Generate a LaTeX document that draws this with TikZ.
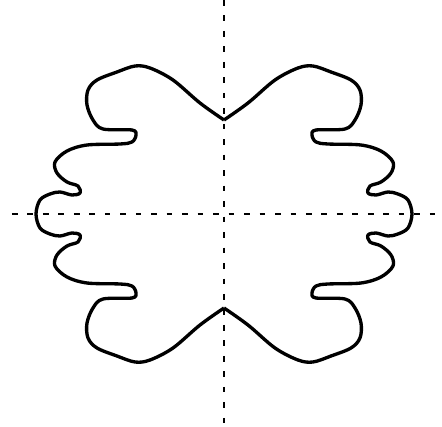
\documentclass[tikz,border=0pt]{standalone}
\usepackage{tikz}
\usetikzlibrary{positioning,calc}

\tikzset{
  outline/.style={line width=0.95pt, line join=round, black},
  axisline/.style={line width=0.85pt, black, dash pattern=on 1.6pt off 2.8pt},
}

% left half of the blot, top cusp down to bottom cusp
\def\blothalf{(0,94) (-24,111) (-51,134) (-74,146) (-89,148) (-107,142) (-127,134)
  (-136,124) (-137,109) (-131,94) (-121,85) (-92,84) (-88,79) (-92,72) (-104,70)
  (-137,69) (-157,63) (-169,52) (-167,41) (-157,32) (-146,28) (-144,21) (-152,19)
  (-164,22) (-174,20) (-184,14) (-188,0)
  (-184,-14) (-174,-20) (-164,-22) (-152,-19) (-144,-21) (-146,-28) (-157,-32)
  (-167,-41) (-169,-52) (-157,-63) (-137,-69) (-104,-70) (-92,-72) (-88,-79)
  (-92,-84) (-121,-85) (-131,-94) (-137,-109) (-136,-124) (-127,-134) (-107,-142)
  (-89,-148) (-74,-146) (-51,-134) (-24,-111) (0,-94)}

\begin{document}
\begin{tikzpicture}[x=0.01cm, y=0.01cm]
\useasboundingbox (-224,-213) rectangle (218,214);

% Axes
\coordinate (ytop) at (0,214);
\coordinate (ybot) at (0,-213);
\coordinate (xleft) at (-212,0);
\coordinate (xright) at (213,0);
\draw[axisline] (ytop) -- (ybot);
\draw[axisline] (xleft) -- (xright);

% Blot outline
\draw[outline] plot[smooth, tension=0.55] coordinates {\blothalf};
\begin{scope}[xscale=-1]
\draw[outline] plot[smooth, tension=0.55] coordinates {\blothalf};
\end{scope}
\end{tikzpicture}
\end{document}
